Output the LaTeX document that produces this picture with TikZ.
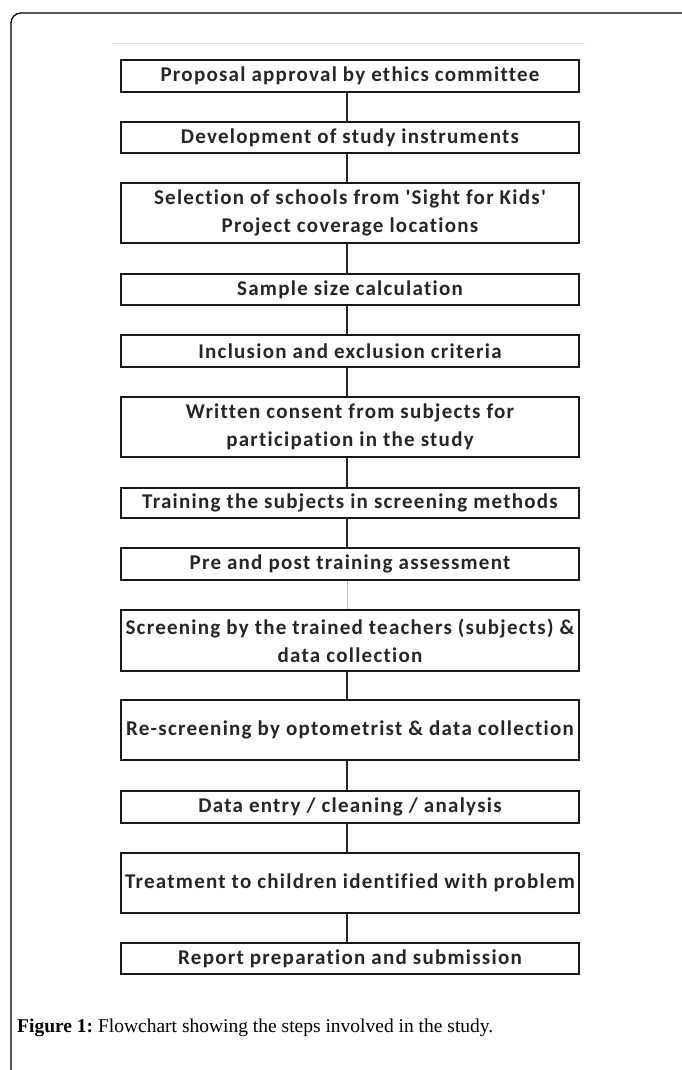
\documentclass[tikz,border=0pt]{standalone}
\usepackage{fontspec}
\newfontfamily\boxfont{Carlito}[Ligatures={TeXOff,NoCommon}, LetterSpace=6]
\newfontfamily\capfont{Liberation Serif}
\begin{document}
\begin{tikzpicture}[x=1pt,y=-1pt,
  stepbox/.style={draw=black!90, line width=2.6pt, minimum width=458pt, inner sep=0pt,
    align=center, font=\boxfont\bfseries\fontsize{21}{28}\selectfont, text=black!85},
  link/.style={draw=black!85, line width=1.6pt},
  faintlink/.style={draw=black!25, line width=1pt},
  frame/.style={draw=black, line width=1.3pt, rounded corners=10pt}]
\useasboundingbox (0,0) rectangle (681,1070);
% outer frame, open to the right and the bottom
\draw[frame] (11,1080) -- (11,13) -- (700,13);
% faint table rule above the chart
\draw[black!12, line width=1pt] (112,44) -- (585,44);

\node[stepbox, minimum height=32pt] (b1)  at (350,76)    {Proposal approval by ethics committee};
\node[stepbox, minimum height=31pt] (b2)  at (350,137.5) {Development of study instruments};
\node[stepbox, minimum height=60pt] (b3)  at (350,213)   {Selection of schools from 'Sight for Kids'\\Project coverage locations};
\node[stepbox, minimum height=31pt] (b4)  at (350,289.5) {Sample size calculation};
\node[stepbox, minimum height=32pt] (b5)  at (350,351)   {Inclusion and exclusion criteria};
\node[stepbox, minimum height=60pt] (b6)  at (350,427)   {Written consent from subjects for\\participation in the study};
\node[stepbox, minimum height=30pt] (b7)  at (350,503)   {Training the subjects in screening methods};
\node[stepbox, minimum height=32pt] (b8)  at (350,564)   {Pre and post training assessment};
\node[stepbox, minimum height=61pt] (b9)  at (350,640.5) {Screening by the trained teachers (subjects) \&\\data collection};
\node[stepbox, minimum height=60pt] (b10) at (350,730)   {Re-screening by optometrist \& data collection};
\node[stepbox, minimum height=32pt] (b11) at (350,807)   {Data entry / cleaning / analysis};
\node[stepbox, minimum height=60pt] (b12) at (350,883)   {Treatment to children identified with problem};
\node[stepbox, minimum height=31pt] (b13) at (350,958.5) {Report preparation and submission};

\foreach \a/\b in {b1/b2,b2/b3,b3/b4,b4/b5,b5/b6,b6/b7,b7/b8,b9/b10,b10/b11,b11/b12,b12/b13}
  \draw[link] ([xshift=-3pt]\a.south) -- ([xshift=-3pt]\b.north);
\draw[faintlink] ([xshift=-3pt]b8.south) -- ([xshift=-3pt]b9.north);

\node[anchor=base west, inner sep=0pt, font=\capfont\fontsize{19.5}{24}\selectfont] (cap) at (17,1032)
  {\textbf{Figure 1:}~Flowchart showing the steps involved in the study.};
\end{tikzpicture}
\end{document}
